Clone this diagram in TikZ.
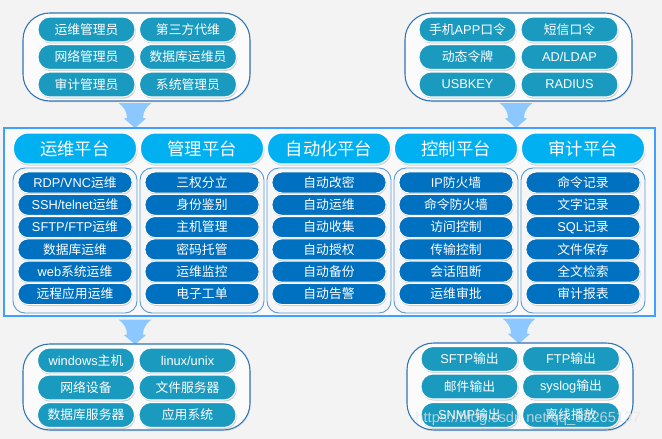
\documentclass[tikz,border=0pt]{standalone}
\usepackage{fontspec}
\setmainfont{Noto Sans CJK SC}
\newfontfamily\lat{Liberation Sans}
\usetikzlibrary{shadows}
\definecolor{bgcol}{RGB}{243,243,243}
\definecolor{pillteal}{RGB}{27,154,192}
\definecolor{hdrblue}{RGB}{0,176,240}
\definecolor{itemblue}{RGB}{0,112,192}
\definecolor{grpborder}{RGB}{46,117,182}
\definecolor{colborder}{RGB}{91,155,213}
\definecolor{frameblue}{RGB}{64,160,255}
\definecolor{arrowblue}{RGB}{140,200,255}
\tikzset{
  grp/.style={draw=grpborder, line width=0.8pt, fill=white!97!gray, rounded corners=20pt,
    minimum width=170.25pt, minimum height=66pt, inner sep=0pt,
    drop shadow={shadow xshift=0.6pt, shadow yshift=-1pt, opacity=0.15}},
  pill/.style={fill=pillteal, draw=white, line width=0.8pt, rounded corners=9pt,
    minimum width=72.75pt, minimum height=18.75pt, inner sep=0pt, text=white,
    font=\fontsize{9.6}{10}\selectfont,
    drop shadow={shadow xshift=0.6pt, shadow yshift=-1.2pt, opacity=0.35}},
  hdr/.style={fill=hdrblue, draw=white, line width=0.8pt, rounded corners=11pt,
    minimum width=92.25pt, minimum height=23.25pt, inner sep=0pt, text=white,
    font=\fontsize{13}{14}\selectfont,
    drop shadow={shadow xshift=0.6pt, shadow yshift=-1.2pt, opacity=0.35}},
  colgrp/.style={draw=colborder, line width=0.7pt, fill=white!93!gray, rounded corners=9pt,
    minimum width=93pt, minimum height=108.75pt, inner sep=0pt},
  item/.style={fill=itemblue, draw=white, line width=0.7pt, rounded corners=7.5pt,
    minimum width=85.5pt, minimum height=15.75pt, inner sep=0pt, text=white,
    font=\fontsize{9.6}{10}\selectfont,
    drop shadow={shadow xshift=0.5pt, shadow yshift=-1pt, opacity=0.35}},
  downarrow/.pic={\fill[arrowblue] (-16.5,0) -- (16.5,0) .. controls (11,4) and (8,9) .. (8,15)
     -- (11,15.5) -- (0,25) -- (-11,15.5) -- (-8,15) .. controls (-8,9) and (-11,4) .. (-16.5,0) -- cycle;}
}
\begin{document}
\begin{tikzpicture}[x=0.75pt,y=-0.75pt]
\useasboundingbox (0,0) rectangle (662,439);
\fill[bgcol] (0,0) rectangle (662,439);

% arrows
\pic at (135,103) {downarrow};
\pic at (516,103) {downarrow};
\pic at (135,319.5) {downarrow};
\pic at (519,318.5) {downarrow};

% top-left group
\node[grp] (tl) at (136.5,57) {};
\node[pill] (tl11) at (86.5,29.5) {运维管理员};
\node[pill] (tl12) at (188,29.5) {第三方代维};
\node[pill] (tl21) at (86.5,57) {网络管理员};
\node[pill] (tl22) at (188,57) {数据库运维员};
\node[pill] (tl31) at (86.5,84.5) {审计管理员};
\node[pill] (tl32) at (188,84.5) {系统管理员};

% top-right group
\node[grp] (tr) at (518.5,57) {};
\node[pill] (tr11) at (467.5,29.5) {手机{\lat APP}口令};
\node[pill] (tr12) at (569.5,29.5) {短信口令};
\node[pill] (tr21) at (467.5,57) {动态令牌};
\node[pill] (tr22) at (569.5,57) {\lat AD/LDAP};
\node[pill] (tr31) at (467.5,84.5) {\lat USBKEY};
\node[pill] (tr32) at (569.5,84.5) {\lat RADIUS};

% main frame
\node[draw=frameblue, line width=1.5pt, fill=white!95!gray, minimum width=488.25pt,
  minimum height=141pt, inner sep=0pt] (frame) at (329.5,222) {};

% headers and column groups
\foreach \x/\t [count=\c] in {75/运维平台,202/管理平台,329/自动化平台,456/控制平台,583/审计平台}{
  \node[hdr] (h\c) at (\x,148.5) {\t};
  \node[colgrp] (g\c) at (\x,240.5) {};
}
\foreach \t [count=\r] in {{{\lat RDP/VNC}运维},{{\lat SSH/telnet}运维},{{\lat SFTP/FTP}运维},{数据库运维},{{\lat web}系统运维},{远程应用运维}}
  \node[item] (i1-\r) at (75,{182.5+22.3*(\r-1)}) {\t};
\foreach \t [count=\r] in {三权分立,身份鉴别,主机管理,密码托管,运维监控,电子工单}
  \node[item] (i2-\r) at (202,{182.5+22.3*(\r-1)}) {\t};
\foreach \t [count=\r] in {自动改密,自动运维,自动收集,自动授权,自动备份,自动告警}
  \node[item] (i3-\r) at (329,{182.5+22.3*(\r-1)}) {\t};
\foreach \t [count=\r] in {{{\lat IP}防火墙},命令防火墙,访问控制,传输控制,会话阻断,运维审批}
  \node[item] (i4-\r) at (456,{182.5+22.3*(\r-1)}) {\t};
\foreach \t [count=\r] in {命令记录,文字记录,{{\lat SQL}记录},文件保存,全文检索,审计报表}
  \node[item] (i5-\r) at (583,{182.5+22.3*(\r-1)}) {\t};

% bottom-left group
\node[grp, minimum height=64.5pt] (bl) at (136.5,387) {};
\node[pill] (bl11) at (86,360.5) {{\lat windows}主机};
\node[pill] (bl12) at (187.5,360.5) {\lat linux/unix};
\node[pill] (bl21) at (86,387.5) {网络设备};
\node[pill] (bl22) at (187.5,387.5) {文件服务器};
\node[pill] (bl31) at (86,415) {数据库服务器};
\node[pill] (bl32) at (187.5,415) {应用系统};

% bottom-right group
\node[grp, minimum width=169.5pt, minimum height=65.25pt] (br) at (520,386.5) {};
\node[pill] (br11) at (469.5,359) {{\lat SFTP}输出};
\node[pill] (br12) at (571,359) {{\lat FTP}输出};
\node[pill] (br21) at (469.5,386.5) {邮件输出};
\node[pill] (br22) at (571,386.5) {{\lat syslog}输出};
\node[pill] (br31) at (469.5,415) {{\lat SNMP}输出};
\node[pill] (br32) at (571,415) {离线播放};

% watermark
\node[text=white!80!gray, opacity=0.75, font=\lat\fontsize{11}{12}\selectfont] (wm) at (528,419) {https://blog.csdn.net/qq\_38265137};
\end{tikzpicture}
\end{document}
